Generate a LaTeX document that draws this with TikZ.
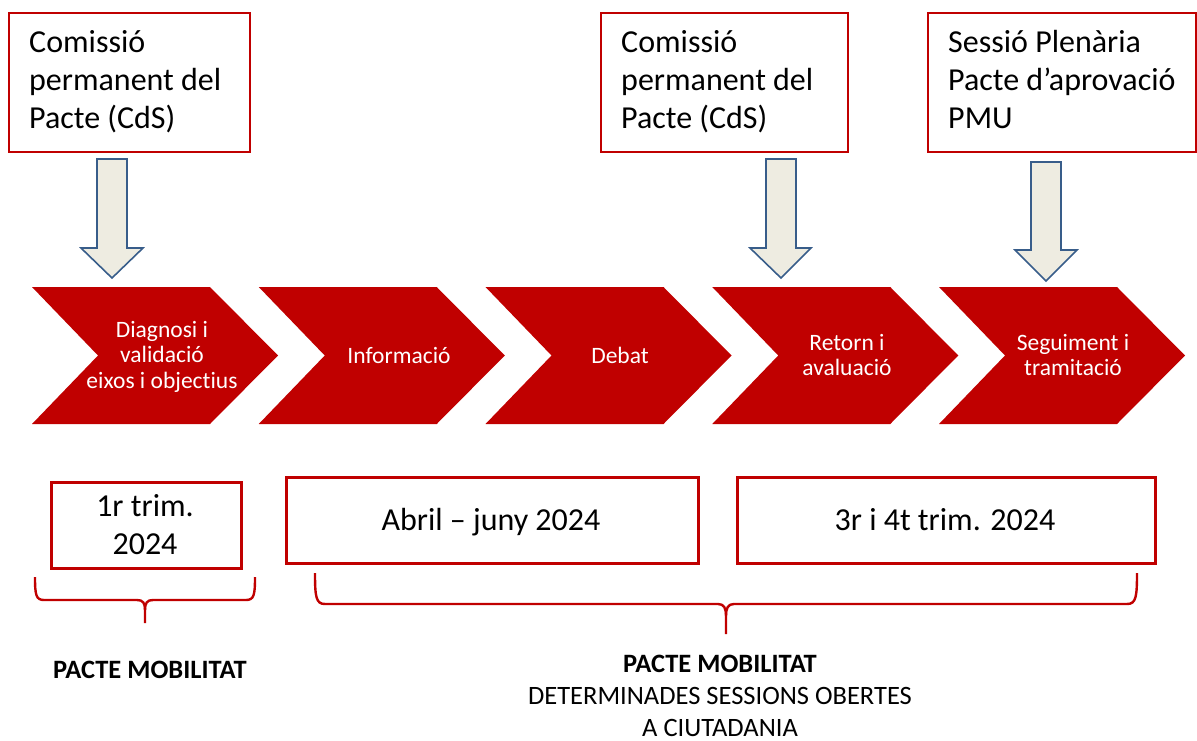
\documentclass[tikz,border=0pt]{standalone}
\usepackage{fontspec}
\setmainfont[Ligatures=NoCommon]{Carlito}
\definecolor{pred}{HTML}{C00000}
\definecolor{afill}{HTML}{EEECE1}
\definecolor{aline}{HTML}{385D8A}
\newcommand\linesL[1]{\vtop{\halign{##\hfil\cr#1\crcr}}}
\newcommand\linesC[1]{\vtop{\halign{\hfil##\hfil\cr#1\crcr}}}
\begin{document}
\begin{tikzpicture}[x=1pt,y=-1pt,
  topbox/.style={draw=pred, line width=1.8pt, inner sep=0pt, anchor=north west},
  datebox/.style={draw=pred, line width=2.6pt, inner sep=0pt, anchor=north west},
  toptext/.style={anchor=base west, inner sep=0pt, font=\fontsize{32}{38}\selectfont},
  datetext/.style={anchor=base, inner sep=0pt, font=\fontsize{32}{38}\selectfont},
  chevtext/.style={anchor=base, inner sep=0pt, text=white, font=\fontsize{23.5}{25.5}\selectfont},
  bottext/.style={anchor=base, inner sep=0pt, font=\fontsize{26.5}{32}\selectfont},
  blockarrow/.style={draw=aline, fill=afill, line width=1.6pt, line join=miter},
  chevron/.style={fill=pred},
  bracestyle/.style={draw=pred, line width=2.4pt}]
\useasboundingbox (0,0) rectangle (1197,741);

% top boxes
\node[topbox, minimum width=241pt, minimum height=139pt] (b1) at (8,12) {};
\node[topbox, minimum width=247pt, minimum height=139pt] (b2) at (600,12) {};
\node[topbox, minimum width=268pt, minimum height=139pt] (b3) at (927,12) {};
\node[toptext] (t1) at (29,53) {\linesL{Comissió\cr permanent del\cr Pacte (CdS)}};
\node[toptext] (t2) at (621,53) {\linesL{Comissió\cr permanent del\cr Pacte (CdS)}};
\node[toptext] (t3) at (948,53) {\linesL{Sessió Plenària\cr Pacte d’aprovació\cr PMU}};

% block arrows
\draw[blockarrow] (97,159) -- (127,159) -- (127,248) -- (143,248) -- (112,278) -- (81,248) -- (97,248) -- cycle;
\draw[blockarrow] (766,159) -- (796,159) -- (796,248) -- (811,248) -- (781,278) -- (750,248) -- (766,248) -- cycle;
\draw[blockarrow] (1031,162) -- (1061,162) -- (1061,250) -- (1077,250) -- (1046,281) -- (1015,250) -- (1031,250) -- cycle;

% chevrons
\foreach \L in {32,258.75,485.5,712.25,939}{
  \fill[chevron] (\L,287) -- ++(178,0) -- ++(68,68.5) -- ++(-68,68.5) -- ++(-178,0) -- ++(66,-68.5) -- cycle;
}
\node[chevtext] (c1) at (162,337) {\linesC{Diagnosi i\cr validació\cr eixos i objectius}};
\node[chevtext] (c2) at (399,363) {Informació};
\node[chevtext] (c3) at (620,363) {Debat};
\node[chevtext] (c4) at (847,350) {\linesC{Retorn i\cr avaluació}};
\node[chevtext] (c5) at (1073,350) {\linesC{Seguiment i\cr tramitació}};

% date boxes
\node[datebox, minimum width=190pt, minimum height=86pt] (d1) at (50,481) {};
\node[datebox, minimum width=412pt, minimum height=86pt] (d2) at (285,476) {};
\node[datebox, minimum width=418pt, minimum height=86pt] (d3) at (736,476) {};
\node[datetext] (dt1) at (145,516) {\linesC{1r trim.\cr 2024}};
\node[datetext] (dt2) at (491,530) {Abril – juny 2024};
\node[datetext] (dt3) at (945,530) {3r i 4t trim. 2024};

% braces
\coordinate (br1) at (145,623);
\coordinate (br2) at (726,634);
\draw[bracestyle] (35,577) .. controls (35,595) and (36,600) .. (44,600) -- (137,600) .. controls (143,600) and (145,603) .. (145,610) -- (br1);
\draw[bracestyle] (255,577) .. controls (255,595) and (254,600) .. (246,600) -- (153,600) .. controls (147,600) and (145,603) .. (145,610);
\draw[bracestyle] (315,573) .. controls (315,597) and (316,604) .. (325,604) -- (718,604) .. controls (724,604) and (726,608) .. (726,616) -- (br2);
\draw[bracestyle] (1137,573) .. controls (1137,597) and (1136,604) .. (1127,604) -- (734,604) .. controls (728,604) and (726,608) .. (726,616);

% bottom texts
\node[bottext] (p1) at (150,678) {\textbf{PACTE MOBILITAT}};
\node[bottext] (p2) at (720,672) {\linesC{\textbf{PACTE MOBILITAT}\cr DETERMINADES SESSIONS OBERTES\cr A CIUTADANIA}};
\end{tikzpicture}
\end{document}
